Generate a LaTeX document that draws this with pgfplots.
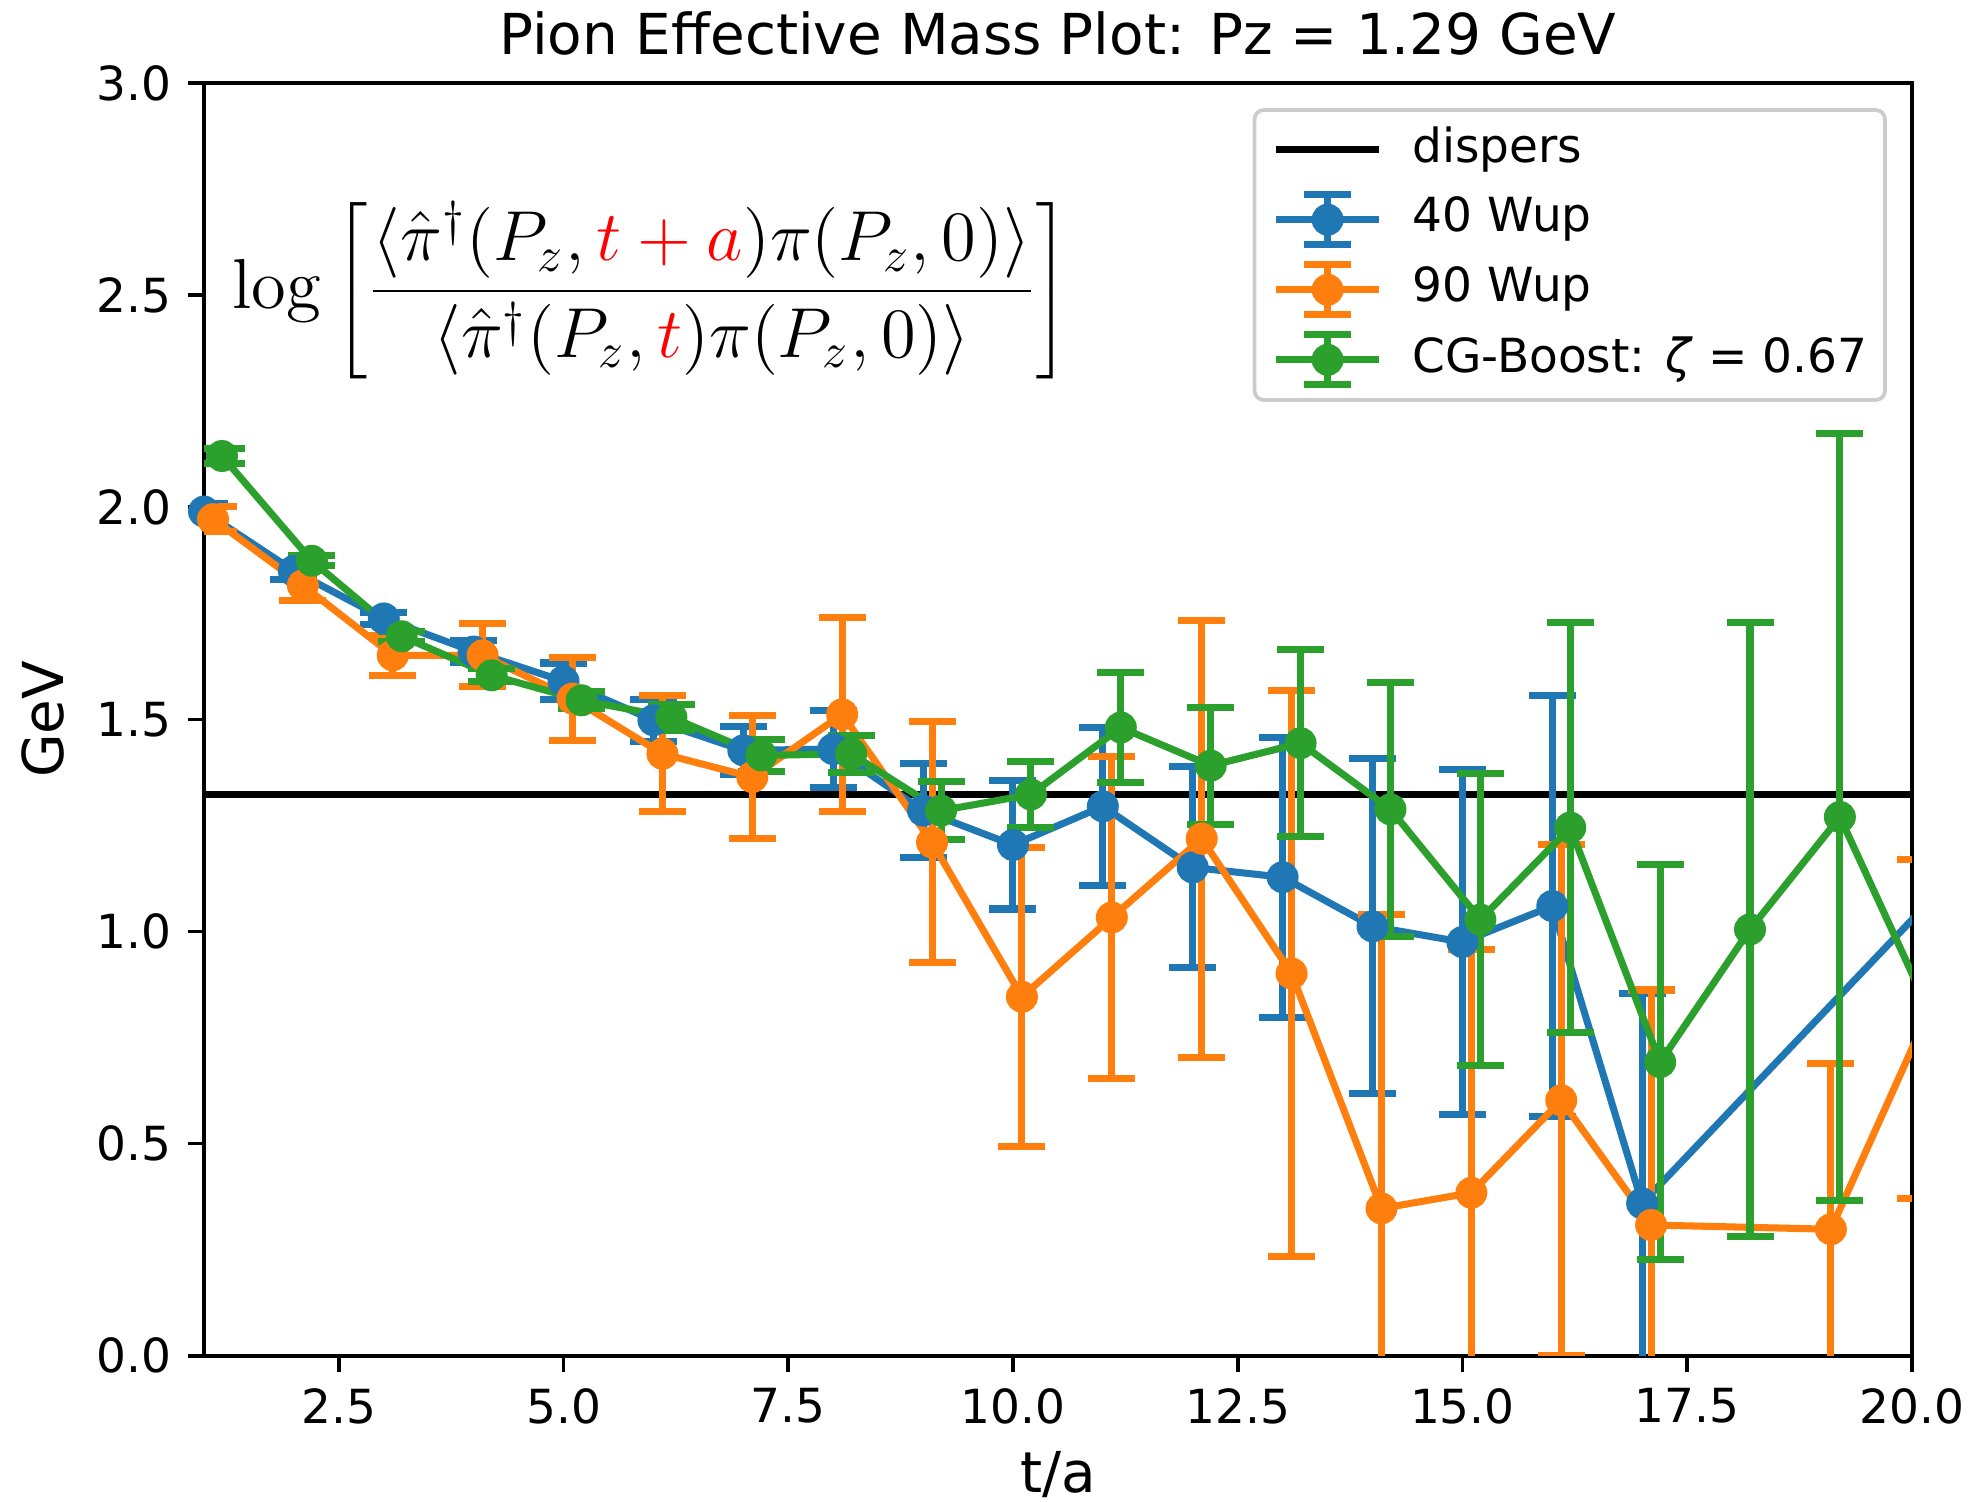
\documentclass[border=0pt]{standalone}
\usepackage[no-math]{fontspec}
\setmainfont{DejaVu Sans}
\usepackage{graphicx}
\usepackage{pgfplots}
\pgfplotsset{compat=1.18}
\usepackage{pgfplotstable}
\definecolor{C0}{RGB}{31,119,180}
\definecolor{C1}{RGB}{255,127,14}
\definecolor{C2}{RGB}{44,160,44}
\pgfplotsset{
  errlegend/.style={legend image code/.code={
    \draw[##1, mark=none, solid] (11pt,-5.3pt) -- (11pt,5.3pt);
    \draw[##1, mark=none, solid] (6pt,-5.3pt) -- (16pt,-5.3pt);
    \draw[##1, mark=none, solid] (6pt,5.3pt) -- (16pt,5.3pt);
    \draw[mark repeat=2,mark phase=2,##1] plot coordinates {(0pt,0pt) (11pt,0pt) (22pt,0pt)};
  }},
  linelegend/.style={legend image code/.code={
    \draw[##1] (0pt,0pt) -- (22pt,0pt);
  }},
  errser/.style={
    color=#1, line width=1.5pt, mark=*, mark size=3pt,
    mark options={solid, fill=#1, draw=#1, line width=0.8pt},
    error bars/y dir=both, error bars/y explicit,
    error bars/error bar style={line width=1.5pt, solid, color=#1},
    error bars/error mark options={rotate=90, mark size=5pt, line width=1.5pt, color=#1},
  },
}
% 40 Wup
\pgfplotstableread{
x y e
1 1.99 0.02
2 1.85 0.02
3 1.738 0.015
4 1.66 0.025
5 1.59 0.043
6 1.498 0.049
7 1.427 0.056
8 1.43 0.09
9 1.285 0.11
10 1.204 0.151
11 1.295 0.187
12 1.151 0.237
13 1.128 0.33
14 1.012 0.395
15 0.975 0.407
16 1.060 0.496
17 0.359 0.494
21 1.25 0.5
}\blue
% 90 Wup
\pgfplotstableread{
x y e
1.1 1.972 0.03
2.1 1.816 0.036
3.1 1.651 0.047
4.1 1.651 0.074
5.1 1.549 0.098
6.1 1.419 0.137
7.1 1.364 0.145
8.1 1.512 0.229
9.1 1.210 0.284
10.1 0.846 0.353
11.1 1.033 0.38
12.1 1.219 0.515
13.1 0.901 0.667
14.1 0.347 0.694
15.1 0.384 0.573
16.1 0.602 0.602
17.1 0.308 0.554
19.1 0.298 0.39
20.1 0.77 0.40
}\orange
% CG-Boost
\pgfplotstableread{
x y e
1.2 2.121 0.017
2.2 1.874 0.012
3.2 1.696 0.012
4.2 1.604 0.015
5.2 1.545 0.02
6.2 1.505 0.03
7.2 1.415 0.037
8.2 1.419 0.044
9.2 1.285 0.069
10.2 1.323 0.078
11.2 1.481 0.13
12.2 1.391 0.138
13.2 1.444 0.221
14.2 1.288 0.30
15.2 1.028 0.344
16.2 1.245 0.484
17.2 0.692 0.466
18.2 1.005 0.724
19.2 1.270 0.904
20.2 0.81 2.5
}\green
\begin{document}
\begin{tikzpicture}
\begin{axis}[
  name=ax,
  scale only axis, width=363.3pt, height=270.7pt,
  xmin=1, xmax=20, ymin=0, ymax=3,
  xtick={2.5,5,7.5,10,12.5,15,17.5,20},
  ytick={0,0.5,1,1.5,2,2.5,3},
  /pgf/number format/assume math mode=true,
  xticklabel style={/pgf/number format/.cd, fixed, fixed zerofill, precision=1},
  yticklabel style={/pgf/number format/.cd, fixed, fixed zerofill, precision=1},
  tick label style={font=\fontsize{10}{12}\selectfont},
  tick align=outside, tick pos=left,
  major tick length=3.5pt,
  every tick/.style={black, line width=0.8pt},
  axis line style={line width=0.8pt},
  title={Pion Effective Mass Plot: Pz = 1.29 GeV},
  every axis title shift=0pt,
  title style={font=\fontsize{12}{14}\selectfont, at={(0.5,1)}, anchor=base, yshift=6.2pt},
  xlabel={t/a}, ylabel={GeV},
  label style={font=\fontsize{12}{14}\selectfont},
  xlabel style={yshift=1pt},
  legend cell align=left,
  legend style={at={(1,1)}, anchor=north east, xshift=-5.3pt, yshift=-5.3pt,
    draw=black!20, line width=0.8pt, rounded corners=2pt, fill=white,
    font=\fontsize{10}{12}\selectfont,
    inner xsep=3.8pt, inner ysep=2.5pt, row sep=2.8pt,
    nodes={inner sep=0pt, text height=8.6pt, text depth=3.4pt},
    /tikz/every odd column/.append style={column sep=6.3pt}},
  clip=true,
]
\addplot[black, line width=1.5pt, linelegend] coordinates {(0,1.324) (21,1.324)};
\addlegendentry{dispers}
\addplot[errser=C0, errlegend] table[x=x, y=y, y error=e] {\blue};
\addlegendentry{40 Wup}
\addplot[errser=C1, errlegend] table[x=x, y=y, y error=e] {\orange};
\addlegendentry{90 Wup}
\addplot[errser=C2, errlegend] table[x=x, y=y, y error=e] {\green};
\addlegendentry{CG-Boost: \textit{ζ} = 0.67}
\node[anchor=west, inner sep=0pt, font=\fontsize{14.4}{17}\selectfont] at (axis cs:1.31,2.512)
  {\scalebox{1.045}{$\displaystyle \log\left[\frac{\langle\hat{\pi}^{\dagger}(P_z,\textcolor{red}{t+a})\pi(P_z,0)\rangle}{\langle\hat{\pi}^{\dagger}(P_z,\textcolor{red}{t})\pi(P_z,0)\rangle}\right]$}};
\end{axis}
\pgfresetboundingbox
\path[use as bounding box] ([xshift=-43.4pt,yshift=-31.1pt]ax.south west) rectangle ([xshift=12.6pt,yshift=17.7pt]ax.north east);
\end{tikzpicture}
\end{document}
